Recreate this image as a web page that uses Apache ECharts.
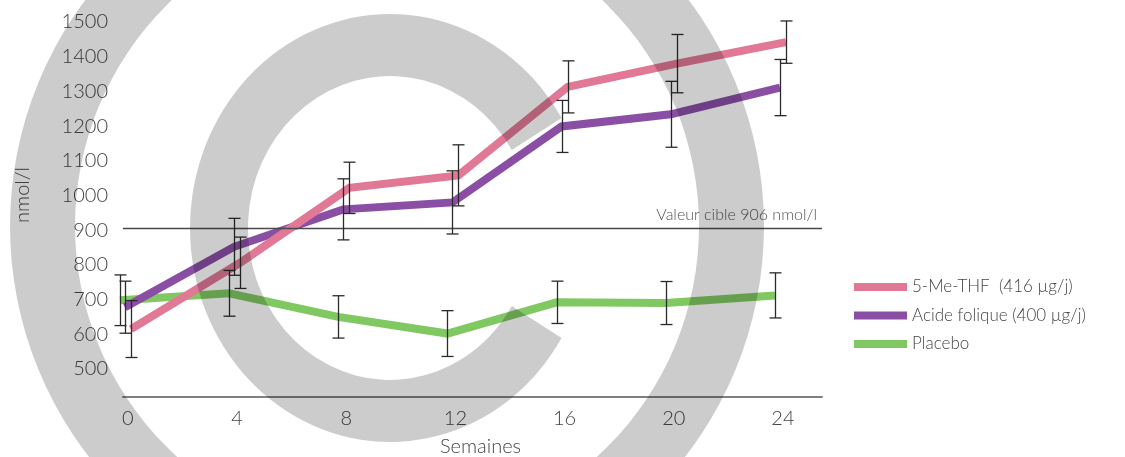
<!DOCTYPE html>
<html>
<head>
<meta charset="utf-8">
<script src="https://cdn.jsdelivr.net/npm/echarts@6/dist/echarts.min.js"></script>
<style>
  html, body { margin: 0; padding: 0; background: #fff; }
  #chart { width: 1125px; height: 457px; }
</style>
</head>
<body>
<div id="chart"></div>
<script>
// ---- data ----
const weeks = [0, 4, 8, 12, 16, 20, 24];
const yTicks = [500, 600, 700, 800, 900, 1000, 1100, 1200, 1300, 1400, 1500];
const seriesNames = ['5-Me-THF  (416 µg/j)', 'Acide folique (400 µg/j)', 'Placebo'];
const meTHFMean = [615, 806, 1022, 1058, 1313, 1380, 1442];
const meTHFSd   = [82, 74, 74, 88, 75, 84, 61];
const folicMean = [678, 852, 960, 980, 1199, 1234, 1311];
const folicSd   = [75, 82, 88, 91, 75, 95, 81];
const placeboMean = [698, 718, 650, 602, 692, 690, 712];
const placeboSd   = [73, 66, 61, 66, 61, 62, 65];
const targetValue = 906;
const targetLabel = 'Valeur cible 906 nmol/l';
const xName = 'Semaines';
const yName = 'nmol/l';

// ---- styling ----
const colors = ['#e07896', '#8a4fa5', '#80c862'];
const FONT = 'Lato';
const TXT = '#454545';
const GRID = { left: 123, top: 22, width: 699, height: 374.7, outerBoundsMode: 'none', containLabel: false };
const XMIN = -0.18, XMAX = 25.43, YMIN = 420, YMAX = 1500;
const offsets = [3, -3, -8]; // pixel shift per series (pink, purple, green)

const means = [meTHFMean, folicMean, placeboMean];
const sds = [meTHFSd, folicSd, placeboSd];

const grids = [Object.assign({}, GRID)];
offsets.forEach(o => grids.push(Object.assign({}, GRID, { left: GRID.left + o })));

const xAxes = [{
  type: 'value', gridIndex: 0, min: XMIN, max: XMAX,
  name: xName, nameLocation: 'middle', nameGap: 40,
  nameTextStyle: { fontFamily: FONT, fontWeight: 300, fontSize: 20, color: TXT, padding: [0, 0, 0, 16] },
  axisLine: { show: true, lineStyle: { color: '#808080', width: 2 } },
  axisTick: { show: false },
  splitLine: { show: false },
  axisLabel: { customValues: weeks, fontFamily: FONT, fontWeight: 300, fontSize: 20, color: TXT, margin: 12, formatter: v => String(v) }
}];
const yAxes = [{
  type: 'value', gridIndex: 0, min: YMIN, max: YMAX,
  axisLine: { show: false }, axisTick: { show: false }, splitLine: { show: false },
  axisLabel: { customValues: yTicks, fontFamily: FONT, fontWeight: 300, fontSize: 20, color: TXT, margin: 15, formatter: v => String(v) }
}];
for (let i = 1; i <= 3; i++) {
  xAxes.push({ type: 'value', gridIndex: i, min: XMIN, max: XMAX, show: false });
  yAxes.push({ type: 'value', gridIndex: i, min: YMIN, max: YMAX, show: false });
}

const series = [{
  type: 'line', xAxisIndex: 0, yAxisIndex: 0, data: [], silent: true,
  markLine: {
    silent: true, symbol: 'none',
    lineStyle: { color: '#4a4a4a', width: 1.3, type: 'solid' },
    label: { show: true, position: 'insideEndTop', formatter: targetLabel, fontFamily: FONT, fontWeight: 300, fontSize: 16, color: '#555', distance: 5 },
    data: [{ yAxis: targetValue }]
  }
}];

const zOrder = [4, 3, 2];
for (let s = 0; s < 3; s++) {
  const gi = s + 1;
  series.push({
    name: seriesNames[s], type: 'line', xAxisIndex: gi, yAxisIndex: gi,
    data: weeks.map((w, i) => [w, means[s][i]]),
    showSymbol: false, symbol: 'none', z: zOrder[s],
    lineStyle: { color: colors[s], width: 8, cap: 'butt', join: 'miter' },
    itemStyle: { color: colors[s] },
    emphasis: { disabled: true }
  });
  series.push({
    type: 'custom', xAxisIndex: gi, yAxisIndex: gi, z: 6, silent: true,
    data: weeks.map((w, i) => [w, means[s][i] - sds[s][i], means[s][i] + sds[s][i]]),
    renderItem: function (params, api) {
      const lo = api.coord([api.value(0), api.value(1)]);
      const hi = api.coord([api.value(0), api.value(2)]);
      const x = Math.round(hi[0]) + 0.5;
      const hw = 6;
      const st = { stroke: '#2a2a2a', lineWidth: 1.3, fill: null };
      return { type: 'group', children: [
        { type: 'line', shape: { x1: x, y1: hi[1], x2: x, y2: lo[1] }, style: st },
        { type: 'line', shape: { x1: x - hw, y1: hi[1], x2: x + hw, y2: hi[1] }, style: st },
        { type: 'line', shape: { x1: x - hw, y1: lo[1], x2: x + hw, y2: lo[1] }, style: st }
      ]};
    }
  });
}

const option = {
  animation: false,
  backgroundColor: '#fff',
  grid: grids,
  xAxis: xAxes,
  yAxis: yAxes,
  legend: {
    orient: 'vertical', left: 849, top: 272,
    data: seriesNames, icon: 'rect', itemWidth: 53, itemHeight: 8, itemGap: 8.5,
    textStyle: { fontFamily: FONT, fontWeight: 300, fontSize: 17, color: TXT, lineHeight: 20 },
    selectedMode: false
  },
  graphic: [
    { type: 'text', x: 23, y: 195, rotation: Math.PI / 2,
      style: { text: yName, fontFamily: FONT, fontWeight: 300, fontSize: 20, fill: TXT, align: 'center', verticalAlign: 'middle' } },
    { type: 'ring', x: 387, y: 226, z: 100, silent: true,
      shape: { cx: 0, cy: 0, r: 377, r0: 312 },
      style: { fill: 'rgba(0,0,0,0.2)' } },
    { type: 'sector', x: 390, y: 228, scaleY: 1.07, z: 100, silent: true,
      shape: { cx: 0, cy: 0, r: 200, r0: 142, startAngle: 0.54, endAngle: Math.PI * 2 - 0.54, clockwise: true },
      style: { fill: 'rgba(0,0,0,0.2)' } }
  ],
  series: series
};

const chart = echarts.init(document.getElementById('chart'), null, { renderer: 'canvas' });
chart.setOption(option);
</script>
</body>
</html>
